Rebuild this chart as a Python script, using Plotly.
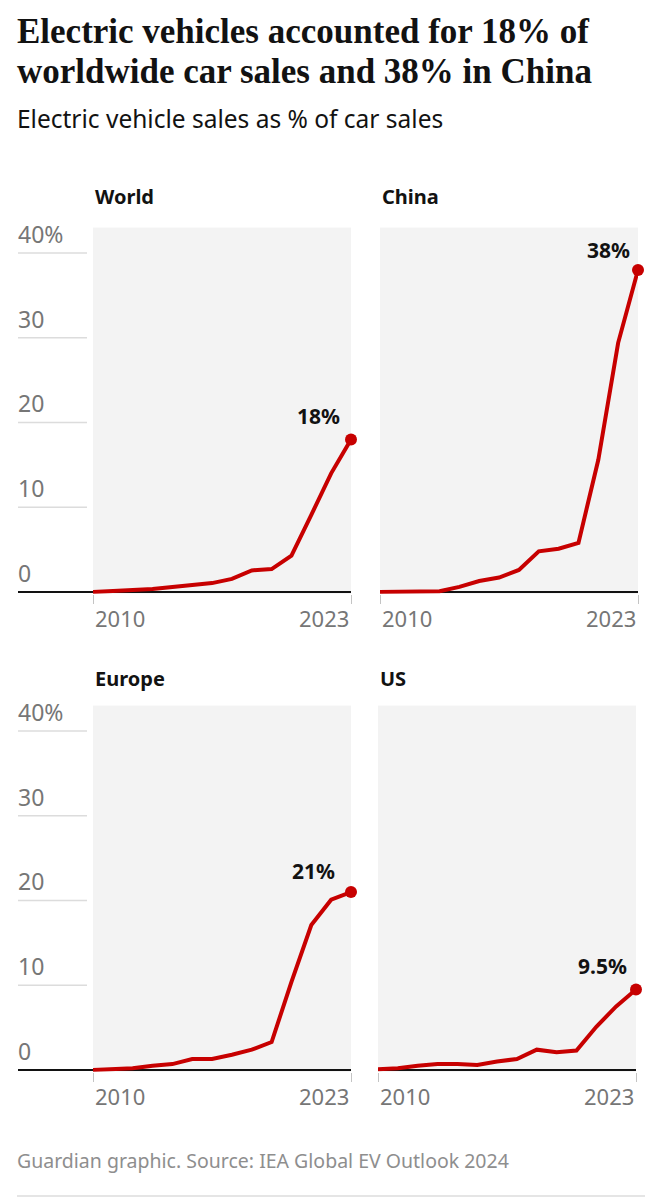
import plotly.graph_objects as go

# ---------------- data ----------------
YEARS = list(range(2010, 2024))
REGIONS = ["World", "China", "Europe", "US"]
WORLD = [0.0, 0.1, 0.2, 0.35, 0.6, 0.8, 1.05, 1.55, 2.55, 2.7, 4.3, 9.1, 14.0, 18.0]
CHINA = [0.0, 0.0, 0.05, 0.1, 0.6, 1.3, 1.7, 2.6, 4.8, 5.1, 5.8, 15.6, 29.4, 38.0]
EUROPE = [0.0, 0.1, 0.2, 0.5, 0.7, 1.3, 1.3, 1.8, 2.4, 3.3, 10.4, 17.1, 20.1, 21.0]
US = [0.1, 0.2, 0.5, 0.7, 0.7, 0.6, 1.0, 1.3, 2.4, 2.1, 2.3, 5.1, 7.5, 9.5]
SERIES = [WORLD, CHINA, EUROPE, US]
END_LABELS = ["18%", "38%", "21%", "9.5%"]
Y_TICKS = [0, 10, 20, 30, 40]
Y_TICK_LABELS = ["0", "10", "20", "30", "40%"]
X_TICKS = [2010, 2023]
X_TICK_LABELS = ["2010", "2023"]

TITLE_LINES = ["Electric vehicles accounted for 18% of",
               "worldwide car sales and 38% in China"]
SUBTITLE = "Electric vehicle sales as % of car sales"
FOOTER = "Guardian graphic. Source: IEA Global EV Outlook 2024"

# ---------------- styling / layout ----------------
PAGE_W, PAGE_H = 662, 1200
OFF = 8  # default page body margin
W, H = PAGE_W - OFF, PAGE_H - OFF
RED = "#c70000"
INK = "#121212"
BG = "#f3f3f3"
GRID = "#dcdcdc"
TICKTXT = "#767676"
SANS = "Noto Sans, Open Sans, sans-serif"
SERIF = "Liberation Serif, DejaVu Serif, serif"

PX_PER_UNIT = 8.475
YMIN, YMAX = -0.2, 43.0
# page-pixel positions of each panel
PANELS = [
    dict(x0=93, x1=351, zero=592, ylabels=True, tcy=197, lx=-9, ly=7),
    dict(x0=380, x1=638, zero=592, ylabels=False, tcy=197, lx=-6, ly=4),
    dict(x0=93, x1=351, zero=1070, ylabels=True, tcy=679, lx=-14, ly=5),
    dict(x0=378, x1=636, zero=1070, ylabels=False, tcy=679, lx=-7, ly=7),
]
GRID_X0, GRID_X1 = 18, 87


def px(x):
    return (x - OFF) / W


def py(y):
    return (H - (y - OFF)) / H


fig = go.Figure()
layout = dict(
    width=W, height=H,
    margin=dict(l=0, r=0, t=0, b=0),
    paper_bgcolor="white", plot_bgcolor=BG,
    showlegend=False,
    font=dict(family=SANS, color=INK),
)
shapes = []
annotations = []

for i, (name, vals, lab, p) in enumerate(zip(REGIONS, SERIES, END_LABELS, PANELS)):
    n = "" if i == 0 else str(i + 1)
    xa, ya = "x" + n, "y" + n
    bottom = p["zero"] - YMIN * PX_PER_UNIT
    top = p["zero"] - YMAX * PX_PER_UNIT
    layout["xaxis" + n] = dict(
        domain=[px(p["x0"]), px(p["x1"])], range=[YEARS[0], YEARS[-1]],
        anchor=ya, showgrid=False, zeroline=False, showline=False,
        tickvals=X_TICKS, showticklabels=False,
        ticks="outside", ticklen=9, tickwidth=1, tickcolor="#c4c4c4",
        fixedrange=True,
    )
    layout["yaxis" + n] = dict(
        domain=[py(bottom), py(top)], range=[YMIN, YMAX],
        anchor=xa, showgrid=False, zeroline=False, showline=False,
        showticklabels=False, ticks="", fixedrange=True,
    )
    fig.add_trace(go.Scatter(
        x=YEARS, y=vals, mode="lines", xaxis=xa, yaxis=ya,
        line=dict(color=RED, width=4), hoverinfo="skip",
    ))
    fig.add_trace(go.Scatter(
        x=[YEARS[-1]], y=[vals[-1]], mode="markers", xaxis=xa, yaxis=ya,
        marker=dict(color=RED, size=12), cliponaxis=False, hoverinfo="skip",
    ))
    # end label
    annotations.append(dict(
        x=YEARS[-1], y=vals[-1], xref=xa, yref=ya, text=lab, showarrow=False,
        xanchor="right", yanchor="bottom", xshift=p["lx"], yshift=p["ly"],
        font=dict(family=SANS, size=21, color=INK, weight="bold"),
    ))
    # panel title
    annotations.append(dict(
        x=px(p["x0"]), y=py(p["tcy"]), xref="paper", yref="paper", text=name,
        showarrow=False, xanchor="left", yanchor="middle",
        font=dict(family=SANS, size=20, color=INK, weight="bold"),
    ))
    # x tick labels
    for t, tl in zip(X_TICKS, X_TICK_LABELS):
        annotations.append(dict(
            x=t, y=0, xref=xa, yref=ya, text=tl, showarrow=False,
            xanchor="left" if t == X_TICKS[0] else "right", yanchor="top",
            yshift=-9, font=dict(family=SANS, size=22, color=TICKTXT),
        ))
    # grid lines + y labels on left panels
    left = GRID_X0 if p["ylabels"] else p["x0"]
    if p["ylabels"]:
        for t, tl in zip(Y_TICKS, Y_TICK_LABELS):
            if t != 0:
                shapes.append(dict(
                    type="line", xref="paper", yref=ya,
                    x0=px(GRID_X0), x1=px(GRID_X1), y0=t, y1=t,
                    line=dict(color=GRID, width=1.5), layer="below",
                ))
            annotations.append(dict(
                x=px(GRID_X0), y=t, xref="paper", yref=ya, text=tl,
                showarrow=False, xanchor="left", yanchor="bottom", yshift=1,
                xshift=-2, font=dict(family=SANS, size=23, color=TICKTXT),
            ))
    # baseline
    shapes.append(dict(
        type="line", xref="paper", yref=ya,
        x0=px(left), x1=px(p["x1"]), y0=0, y1=0,
        line=dict(color=INK, width=2), layer="below",
    ))

# title, subtitle, footer
annotations.append(dict(
    x=px(15), y=py(32), xref="paper", yref="paper", text=TITLE_LINES[0],
    showarrow=False, xanchor="left", yanchor="middle",
    font=dict(family=SERIF, size=35, color=INK, weight="bold"),
))
annotations.append(dict(
    x=px(15), y=py(71), xref="paper", yref="paper", text=TITLE_LINES[1],
    showarrow=False, xanchor="left", yanchor="middle",
    font=dict(family=SERIF, size=35, color=INK, weight="bold"),
))
annotations.append(dict(
    x=px(15), y=py(119), xref="paper", yref="paper", text=SUBTITLE,
    showarrow=False, xanchor="left", yanchor="middle",
    font=dict(family=SANS, size=24.5, color=INK),
))
annotations.append(dict(
    x=px(15), y=py(1160), xref="paper", yref="paper", text=FOOTER,
    showarrow=False, xanchor="left", yanchor="middle",
    font=dict(family=SANS, size=19.5, color="#8e8e8e"),
))
shapes.append(dict(
    type="line", xref="paper", yref="paper",
    x0=px(17), x1=px(645), y0=py(1196), y1=py(1196),
    line=dict(color=GRID, width=1.5),
))

layout["shapes"] = shapes
layout["annotations"] = annotations
fig.update_layout(**layout)
fig.write_html("out.html")
